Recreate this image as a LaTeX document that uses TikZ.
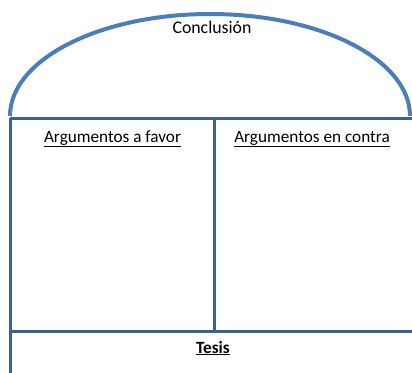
\documentclass[tikz,border=0pt]{standalone}
\usepackage{fontspec}
\setmainfont{Carlito}
\definecolor{arcblue}{HTML}{4A7EBB}
\definecolor{tableblue}{HTML}{3F6190}
\begin{document}
\begin{tikzpicture}[x=1pt,y=-1pt,
  arcline/.style={draw=arcblue,line width=4pt},
  tabline/.style={draw=tableblue,line width=3pt},
  lbl/.style={font=\fontsize{17.2}{20}\selectfont,inner sep=0pt,anchor=base}]
\useasboundingbox (0,0) rectangle (412,372);
% dome
\draw[arcline] (10,116) arc[start angle=180,end angle=360,x radius=200,y radius=102];
% table
\coordinate (tl) at (10,118);
\coordinate (tr) at (414,118);
\coordinate (bl) at (10,374);
\coordinate (ml) at (10,331);
\coordinate (mr) at (414,331);
\coordinate (ct) at (214,118);
\coordinate (cb) at (214,331);
\draw[tabline] (tl) -- (tr);
\draw[tabline] (tl) -- (bl);
\draw[tabline] (ml) -- (mr);
\draw[tabline] (ct) -- (cb);
% labels
\node[lbl,font=\fontsize{17.8}{20}\selectfont] (concl) at (212,33) {Conclusión};
\node[lbl] (favor) at (112.5,142) {\underline{Argumentos a favor}};
\node[lbl] (contra) at (312,142) {\underline{Argumentos en contra}};
\node[lbl,font=\fontsize{17.2}{20}\selectfont\bfseries] (tesis) at (213,353) {\underline{Tesis}};
\end{tikzpicture}
\end{document}
